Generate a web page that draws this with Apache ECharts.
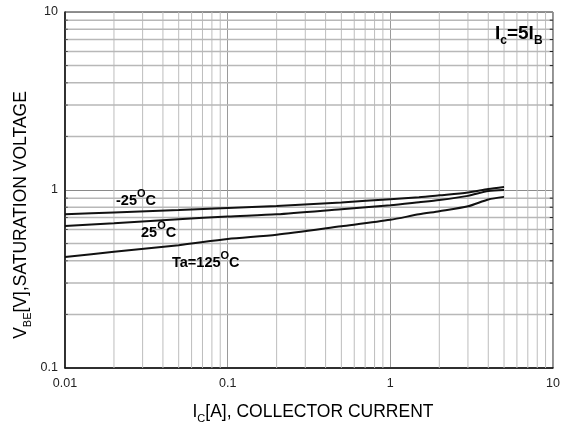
<!DOCTYPE html>
<html>
<head>
<meta charset="utf-8">
<script src="https://cdn.jsdelivr.net/npm/echarts@6/dist/echarts.min.js"></script>
<style>html,body{margin:0;padding:0;background:#fff}#c{width:571px;height:427px}</style>
</head>
<body>
<div id="c"></div>
<script>
const currentA = [0.01, 0.02, 0.05, 0.1, 0.2, 0.5, 1, 1.5, 2, 3, 4, 5];
const vbeM25 = [0.73, 0.748, 0.772, 0.793, 0.812, 0.852, 0.887, 0.91, 0.933, 0.968, 1.013, 1.04];
const vbe25 = [0.628, 0.65, 0.685, 0.71, 0.73, 0.78, 0.82, 0.853, 0.878, 0.927, 0.987, 1.0];
const vbe125 = [0.42, 0.45, 0.49, 0.53, 0.56, 0.625, 0.68, 0.73, 0.76, 0.81, 0.885, 0.915];
const xTickLabels = ['0.01', '0.1', '1', '10'];
const yTickLabels = ['0.1', '1', '10'];
const xMinor = [0.02,0.03,0.04,0.05,0.06,0.07,0.08,0.09,0.2,0.3,0.4,0.5,0.6,0.7,0.8,0.9,2,3,4,5,6,7,8,9];
const yMinor = [0.2,0.3,0.4,0.5,0.6,0.7,0.8,0.9,2,3,4,5,6,7,8,9];

const FONT = 'Liberation Sans, Arial, sans-serif';
const chart = echarts.init(document.getElementById('c'), null, {renderer: 'canvas'});

function pairs(xs, ys) { return xs.map((x, i) => [x, ys[i]]); }
function xLabel(v) {
  const idx = Math.round(Math.log10(v)) + 2;
  return xTickLabels[idx] !== undefined ? xTickLabels[idx] : '';
}
function yLabel(v) {
  const idx = Math.round(Math.log10(v)) + 1;
  return yTickLabels[idx] !== undefined ? yTickLabels[idx] : '';
}

const curveStyle = {color: '#111', width: 2};

function segSeries(points, color, width, z) {
  return {type: 'line', data: points, showSymbol: false, symbol: 'none', silent: true, z: z, clip: false,
    lineStyle: {color: color, width: width}, emphasis: {disabled: true}, tooltip: {show: false}};
}
const gridSeries = [];
xMinor.forEach(v => gridSeries.push(segSeries([[v, 0.1], [v, 10]], '#bdbdbd', 1, 1)));
yMinor.forEach(v => gridSeries.push(segSeries([[0.0101, v], [1, v], [9.9, v]], '#b8b8b8', 1.5, 1)));
yMinor.forEach(v => gridSeries.push(segSeries([[9.55, v], [10, v]], '#222', 1, 2)));
yMinor.forEach(v => gridSeries.push(segSeries([[0.01, v], [0.0104, v]], '#444', 1, 2)));

const rich = {
  n: {fontSize: 14.5, fontWeight: 'bold', fontFamily: FONT, color: '#111', lineHeight: 20, verticalAlign: 'bottom'},
  s: {fontSize: 11, fontWeight: 'bold', fontFamily: FONT, color: '#111', lineHeight: 20, verticalAlign: 'top'}
};
const richBig = {
  n: {fontSize: 19, fontWeight: 'bold', fontFamily: FONT, color: '#111', lineHeight: 26, verticalAlign: 'middle'},
  b: {fontSize: 12, fontWeight: 'bold', fontFamily: FONT, color: '#111', lineHeight: 26, verticalAlign: 'bottom'}
};
const richTitle = {
  n: {fontSize: 17.5, fontFamily: FONT, color: '#111', lineHeight: 24, verticalAlign: 'middle'},
  b: {fontSize: 11, fontFamily: FONT, color: '#111', lineHeight: 24, verticalAlign: 'bottom'}
};

chart.setOption({
  animation: false,
  grid: {left: 65, right: 18, top: 12, bottom: 59, show: true, borderColor: '#222', borderWidth: 1},
  xAxis: {
    type: 'log', logBase: 10, min: 0.01, max: 10,
    axisLine: {show: true, onZero: false, lineStyle: {color: '#111', width: 1.5}},
    axisTick: {show: false},
    axisLabel: {fontSize: 12.5, fontFamily: FONT, color: '#222', margin: 9, formatter: xLabel},
    splitLine: {show: true, lineStyle: {color: '#9a9a9a', width: 1}}
  },
  yAxis: {
    type: 'log', logBase: 10, min: 0.1, max: 10,
    axisLine: {show: true, onZero: false, lineStyle: {color: '#111', width: 1.5}},
    axisTick: {show: false},
    axisLabel: {fontSize: 12.5, fontFamily: FONT, color: '#222', margin: 7, formatter: yLabel},
    splitLine: {show: true, lineStyle: {color: '#8a8a8a', width: 1}}
  },
  series: gridSeries.concat([
    {name: '-25', type: 'line', data: pairs(currentA, vbeM25), showSymbol: false, smooth: 0.25, lineStyle: curveStyle, z: 5},
    {name: '25', type: 'line', data: pairs(currentA, vbe25), showSymbol: false, smooth: 0.25, lineStyle: curveStyle, z: 5},
    {name: '125', type: 'line', data: pairs(currentA, vbe125), showSymbol: false, smooth: 0.25, lineStyle: curveStyle, z: 5}
  ]),
  graphic: [
    {type: 'text', left: 116, top: 188, z: 10, style: {text: '{n|-25}{s|O}{n|C}', rich: rich}},
    {type: 'text', left: 141, top: 220, z: 10, style: {text: '{n|25}{s|O}{n|C}', rich: rich}},
    {type: 'text', left: 172, top: 250, z: 10, style: {text: '{n|Ta=125}{s|O}{n|C}', rich: rich}},
    {type: 'text', left: 495, top: 24, z: 10, style: {text: '{n|I}{b|c}{n|=5I}{b|B}', rich: richBig}},
    {type: 'text', x: 21, y: 215, rotation: Math.PI / 2, z: 10,
      style: {text: '{n|V}{b|BE}{n|[V],SATURATION VOLTAGE}', rich: richTitle, align: 'center', verticalAlign: 'middle'}},
    {type: 'text', x: 313, y: 412, z: 10,
      style: {text: '{n|I}{b|C}{n|[A], COLLECTOR CURRENT}', rich: richTitle, align: 'center', verticalAlign: 'middle'}}
  ]
});
</script>
</body>
</html>
